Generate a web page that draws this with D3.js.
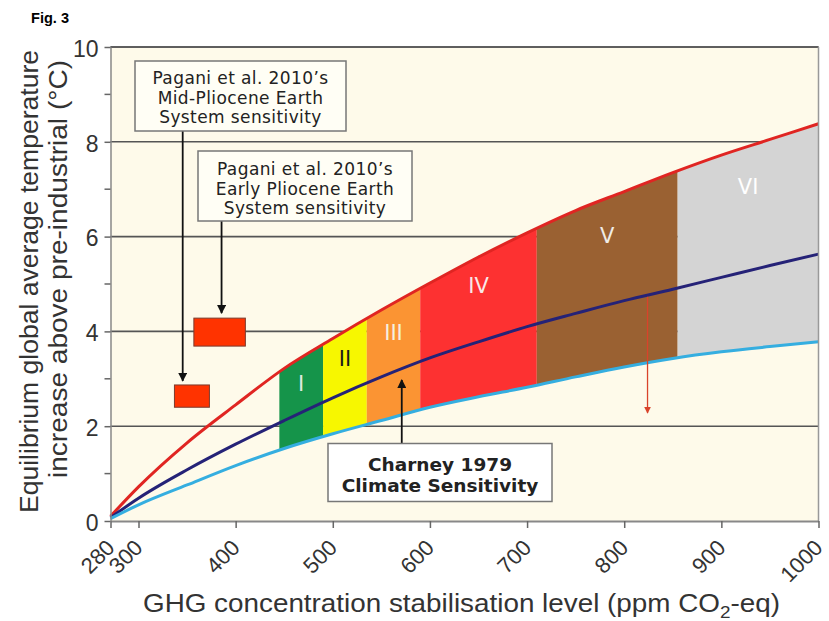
<!DOCTYPE html>
<html>
<head>
<meta charset="utf-8">
<script src="https://cdn.jsdelivr.net/npm/d3@7"></script>
<style>
  body { margin: 0; background: #fff; }
  svg { display: block; }
  .tick text { font-family: "Liberation Sans", Arial, sans-serif; fill: #333; }
</style>
</head>
<body>
<svg id="chart" width="829" height="621"></svg>
<script>
// values
const ppm = [280, 300, 350, 400, 450, 500, 550, 600, 650, 700, 750, 800, 850, 900, 950, 1000];
const upperT = [0.1, 0.72, 1.65, 2.45, 3.22, 3.85, 4.45, 5.02, 5.57, 6.08, 6.55, 6.95, 7.35, 7.72, 8.05, 8.38];
const bestT  = [0.07, 0.48, 1.08, 1.62, 2.12, 2.6, 3.04, 3.44, 3.78, 4.1, 4.38, 4.65, 4.89, 5.14, 5.39, 5.63];
const lowerT = [0.05, 0.34, 0.76, 1.17, 1.53, 1.84, 2.12, 2.4, 2.62, 2.82, 3.04, 3.25, 3.43, 3.57, 3.68, 3.78];

const categories = ["I", "II", "III", "IV", "V", "VI"];
const catBounds = [445, 490, 535, 590, 710, 855, 1000];
const catLabelT = [2.9, 3.42, 3.97, 4.98, 6.03, 7.05];
const catColors = ["#15944a", "#f7f700", "#fb9433", "#fd3131", "#9a6132", "#d4d4d4"];
const catTextColors = ["#dfe9df", "#1a1a1a", "#f5f0e0", "#f8e8e8", "#f0ece6", "#ffffff"];

const xTicks = [280, 300, 400, 500, 600, 700, 800, 900, 1000];
const yTicks = [0, 2, 4, 6, 8, 10];
const yMinor = [1, 3, 5, 7, 9];

// Pagani et al. 2010 ranges: [ppm low, ppm high], [T low, T high]
const paganiMid   = { ppm: [337, 373], t: [2.4, 2.87] };
const paganiEarly = { ppm: [357, 410], t: [3.69, 4.28] };
// red arrow on the best-estimate curve
const dropArrow = { ppm: 824, t0: 4.73, t1: 2.28 };

const svg = d3.select("#chart");
const plotL = 110.5, plotR = 818.5, plotT = 47, plotB = 521;

const x = d3.scaleLinear().domain([280, 300, 1000]).range([plotL, 138.5, plotR]);
const y = d3.scaleLinear().domain([0, 10]).range([plotB, plotT]);

const defs = svg.append("defs");
defs.append("marker").attr("id", "arrowBlack")
  .attr("viewBox", "0 0 10 10").attr("refX", 9).attr("refY", 5)
  .attr("markerWidth", 9).attr("markerHeight", 9).attr("markerUnits", "userSpaceOnUse")
  .attr("orient", "auto")
  .append("path").attr("d", "M0,0 L10,5 L0,10 z").attr("fill", "#111");
defs.append("marker").attr("id", "arrowRed")
  .attr("viewBox", "0 0 10 10").attr("refX", 9).attr("refY", 5)
  .attr("markerWidth", 7).attr("markerHeight", 7).attr("markerUnits", "userSpaceOnUse")
  .attr("orient", "auto")
  .append("path").attr("d", "M0,0 L10,5 L0,10 z").attr("fill", "#d9432a");

svg.append("text")
  .attr("x", 31).attr("y", 23)
  .attr("font-family", "Liberation Sans, Arial, sans-serif")
  .attr("font-weight", "bold").attr("font-size", 14)
  .attr("textLength", 38).attr("lengthAdjust", "spacingAndGlyphs")
  .text("Fig. 3");

// plot background
svg.append("rect")
  .attr("x", plotL).attr("y", plotT)
  .attr("width", plotR - plotL).attr("height", plotB - plotT)
  .attr("fill", "#fefaea");

// grid lines
svg.append("g").selectAll("line")
  .data(yTicks.filter(d => d > 0))
  .enter().append("line")
  .attr("x1", plotL).attr("x2", plotR)
  .attr("y1", d => y(d)).attr("y2", d => y(d))
  .attr("stroke", "#555").attr("stroke-width", 1.6);

// category bands between the lower and upper curves
const area = d3.area()
  .x((d, i) => x(ppm[i]))
  .y0((d, i) => y(lowerT[i]))
  .y1((d, i) => y(upperT[i]))
  .curve(d3.curveMonotoneX);

categories.forEach((c, i) => {
  defs.append("clipPath").attr("id", "band" + i)
    .append("rect")
    .attr("x", x(catBounds[i])).attr("y", plotT)
    .attr("width", x(catBounds[i + 1]) - x(catBounds[i]))
    .attr("height", plotB - plotT);
  svg.append("path")
    .attr("d", area(ppm))
    .attr("fill", catColors[i])
    .attr("clip-path", `url(#band${i})`);
  svg.append("text")
    .attr("x", x((catBounds[i] + catBounds[i + 1]) / 2))
    .attr("y", y(catLabelT[i]))
    .attr("dy", "0.36em")
    .attr("text-anchor", "middle")
    .attr("font-family", "DejaVu Sans, Verdana, sans-serif")
    .attr("font-size", 21)
    .attr("fill", catTextColors[i])
    .text(c);
});

// curves
const line = vals => d3.line()
  .x((d, i) => x(ppm[i]))
  .y((d, i) => y(vals[i]))
  .curve(d3.curveMonotoneX)(ppm);

[[upperT, "#e02522"], [bestT, "#252277"], [lowerT, "#35aee0"]].forEach(([vals, col]) => {
  svg.append("path")
    .attr("d", line(vals))
    .attr("fill", "none")
    .attr("stroke", col)
    .attr("stroke-width", 3);
});

// red drop arrow
svg.append("line")
  .attr("x1", x(dropArrow.ppm)).attr("x2", x(dropArrow.ppm))
  .attr("y1", y(dropArrow.t0)).attr("y2", y(dropArrow.t1))
  .attr("stroke", "#d9432a").attr("stroke-width", 1.3)
  .attr("marker-end", "url(#arrowRed)");

// Pagani boxes
[paganiMid, paganiEarly].forEach(p => {
  svg.append("rect")
    .attr("x", x(p.ppm[0])).attr("y", y(p.t[1]))
    .attr("width", x(p.ppm[1]) - x(p.ppm[0]))
    .attr("height", y(p.t[0]) - y(p.t[1]))
    .attr("fill", "#ff3300")
    .attr("stroke", "#7a3b2e").attr("stroke-width", 1);
});

// axes frame
svg.append("line").attr("x1", plotL).attr("x2", plotR).attr("y1", plotT).attr("y2", plotT)
  .attr("stroke", "#555").attr("stroke-width", 1.6);
svg.append("line").attr("x1", plotR).attr("x2", plotR).attr("y1", plotT).attr("y2", plotB)
  .attr("stroke", "#999").attr("stroke-width", 1.5);

const xAxis = svg.append("g")
  .attr("transform", `translate(0,${plotB})`)
  .call(d3.axisBottom(x).tickValues(xTicks).tickSize(7).tickSizeOuter(0).tickFormat(d3.format("d")));
xAxis.select(".domain").attr("stroke", "#888").attr("stroke-width", 2);
xAxis.selectAll(".tick line").attr("stroke", "#666").attr("stroke-width", 1.5);
xAxis.selectAll(".tick text")
  .attr("font-size", 22)
  .attr("text-anchor", "end")
  .attr("dy", null)
  .attr("y", 0)
  .attr("transform", "translate(5,28) rotate(-45)");

const yAxis = svg.append("g")
  .attr("transform", `translate(${plotL},0)`)
  .call(d3.axisLeft(y).tickValues(yTicks).tickSize(6).tickSizeOuter(0).tickPadding(6));
yAxis.select(".domain").attr("stroke", "#888").attr("stroke-width", 1.5);
yAxis.selectAll(".tick line").attr("stroke", "#666").attr("stroke-width", 1.5);
yAxis.selectAll(".tick text").attr("font-size", 23).attr("dy", "0.4em");

svg.append("g").selectAll("line")
  .data(yMinor)
  .enter().append("line")
  .attr("x1", plotL - 6).attr("x2", plotL)
  .attr("y1", d => y(d)).attr("y2", d => y(d))
  .attr("stroke", "#666").attr("stroke-width", 1.5);

// axis titles
const titleFont = "Liberation Sans, Arial, sans-serif";
svg.append("text")
  .attr("transform", "translate(38,281.5) rotate(-90)")
  .attr("text-anchor", "middle")
  .attr("font-family", titleFont)
  .attr("font-size", 26).attr("fill", "#333")
  .attr("textLength", 463).attr("lengthAdjust", "spacingAndGlyphs")
  .text("Equilibrium global average temperature");
svg.append("text")
  .attr("transform", "translate(67,269) rotate(-90)")
  .attr("text-anchor", "middle")
  .attr("font-family", titleFont)
  .attr("font-size", 26).attr("fill", "#333")
  .attr("textLength", 418).attr("lengthAdjust", "spacingAndGlyphs")
  .text("increase above pre-industrial (°C)");

const xTitle = svg.append("text")
  .attr("x", 461.5).attr("y", 611.5)
  .attr("text-anchor", "middle")
  .attr("font-family", titleFont)
  .attr("font-size", 25).attr("fill", "#333")
  .attr("textLength", 637).attr("lengthAdjust", "spacingAndGlyphs");
xTitle.append("tspan").text("GHG concentration stabilisation level (ppm CO");
xTitle.append("tspan").attr("font-size", 17).attr("dy", 6).text("2");
xTitle.append("tspan").attr("dy", -6).text("-eq)");

// annotation boxes
function noteBox(bx, by, bw, bh, lines, opts) {
  svg.append("rect")
    .attr("x", bx).attr("y", by).attr("width", bw).attr("height", bh)
    .attr("fill", opts.fill).attr("stroke", "#777").attr("stroke-width", 1.5);
  const t = svg.append("text")
    .attr("text-anchor", "middle")
    .attr("font-family", "DejaVu Sans, Verdana, sans-serif")
    .attr("font-size", opts.size)
    .attr("font-weight", opts.weight)
    .attr("letter-spacing", opts.spacing)
    .attr("fill", "#222");
  lines.forEach((l, i) => {
    t.append("tspan").attr("x", bx + bw / 2).attr("y", by + opts.first + i * opts.step).text(l);
  });
}

function arrow(x1, y1, x2, y2) {
  svg.append("line")
    .attr("x1", x1).attr("y1", y1).attr("x2", x2).attr("y2", y2)
    .attr("stroke", "#111").attr("stroke-width", 1.8)
    .attr("marker-end", "url(#arrowBlack)");
}

arrow(x(345.5), 131, x(345.5), y(paganiMid.t[1]) - 4);
arrow(x(385.5), 221, x(385.5), y(paganiEarly.t[1]) - 5);
arrow(x(571), 443, x(571), 380);

noteBox(135, 61, 211, 70,
  ["Pagani et al. 2010’s", "Mid-Pliocene Earth", "System sensitivity"],
  { fill: "#fffef5", size: 17, weight: "normal", spacing: 0.4, first: 23, step: 19.5 });
noteBox(198, 151, 214, 70,
  ["Pagani et al. 2010’s", "Early Pliocene Earth", "System sensitivity"],
  { fill: "#fffef5", size: 17, weight: "normal", spacing: 0.4, first: 24, step: 19.5 });
noteBox(328, 443.5, 224, 58,
  ["Charney 1979", "Climate Sensitivity"],
  { fill: "#ffffff", size: 18.5, weight: "bold", spacing: 0, first: 27, step: 21 });
</script>
</body>
</html>
